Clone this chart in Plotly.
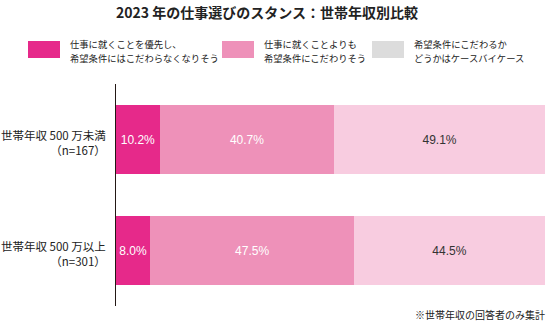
import plotly.graph_objects as go

title = "2023 年の仕事選びのスタンス：世帯年収別比較"
categories = ["世帯年収 500 万未満", "世帯年収 500 万以上"]
sample_sizes = ["（n=167）", "（n=301）"]
series_names = [
    ["仕事に就くことを優先し、", "希望条件にはこだわらなくなりそう"],
    ["仕事に就くことよりも", "希望条件にこだわりそう"],
    ["希望条件にこだわるか", "どうかはケースバイケース"],
]
values_a = [10.2, 8.0]
values_b = [40.7, 47.5]
values_c = [49.1, 44.5]
footnote = "※世帯年収の回答者のみ集計"

bar_colors = ["#E6298A", "#EE91B9", "#F8CCE0"]
legend_colors = ["#E6298A", "#EE91B9", "#DCDCDC"]
text_colors = ["#FFFFFF", "#FFFFFF", "#333333"]
FONT = "Noto Sans CJK JP"

fig = go.Figure()
for vals, name, col, tcol in zip([values_a, values_b, values_c], series_names, bar_colors, text_colors):
    fig.add_trace(go.Bar(
        y=categories, x=vals, orientation="h", name="".join(name),
        marker=dict(color=col, line=dict(width=0)),
        text=[f"{v:.1f}%" for v in vals], textposition="inside",
        insidetextanchor="middle", textangle=0,
        textfont=dict(color=tcol, size=12, family="Liberation Sans"),
        showlegend=False, hoverinfo="skip",
    ))

fig.update_layout(
    barmode="stack", bargap=0.37,
    width=556, height=324,
    margin=dict(l=116, r=11, t=84, b=18, autoexpand=False),
    paper_bgcolor="white", plot_bgcolor="white",
    font=dict(family=FONT, size=11, color="#333333"),
    uniformtext=dict(minsize=8, mode="show"),
    xaxis=dict(range=[0, 100], visible=False, fixedrange=True, automargin=False),
    yaxis=dict(autorange="reversed", showline=True, linecolor="#231815", linewidth=1,
               showgrid=False, zeroline=False, ticks="", showticklabels=False,
               automargin=False),
)

pw, ph = 556 - 116 - 11, 324 - 84 - 18
def px(x): return (x - 116) / pw
def py(y): return 1 - (y - 84) / ph

annotations = [
    dict(text=title, x=267, y=12, xanchor="center",
         font=dict(size=14, color="#222222", family=FONT, weight="bold")),
    dict(text=footnote, x=547, y=314, xanchor="right",
         font=dict(size=10, color="#222222", family=FONT)),
]
shapes = []
legend_x = [28, 222, 372]
for lx, col, name in zip(legend_x, legend_colors, series_names):
    shapes.append(dict(type="rect", x0=lx, x1=lx + 32, y0=41, y1=58,
                       fillcolor=col, line=dict(width=0)))
    for line, ly in zip(name, [44, 57.5]):
        annotations.append(dict(text=line, x=lx + 40, y=ly, xanchor="left",
                                align="left", font=dict(size=9.3, color="#222222", family=FONT)))

for a in annotations:
    a.update(xref="paper", yref="paper", showarrow=False, yanchor="middle")
    a["x"] = px(a["x"])
    a["y"] = py(a["y"])
for s in shapes:
    s.update(xref="paper", yref="paper")
    s["x0"], s["x1"] = px(s["x0"]), px(s["x1"])
    s["y0"], s["y1"] = py(s["y0"]), py(s["y1"])

# category labels (two lines, right aligned, tied to the category axis)
for cat, n in zip(categories, sample_sizes):
    annotations.append(dict(text=f"{cat}<br>{n}", x=px(108), xref="paper", y=cat, yref="y",
                            xanchor="right", yanchor="middle", yshift=-3, align="right",
                            showarrow=False,
                            font=dict(size=11.5, color="#222222", family=FONT)))

fig.update_layout(annotations=annotations, shapes=shapes)
fig.write_html("out.html")
